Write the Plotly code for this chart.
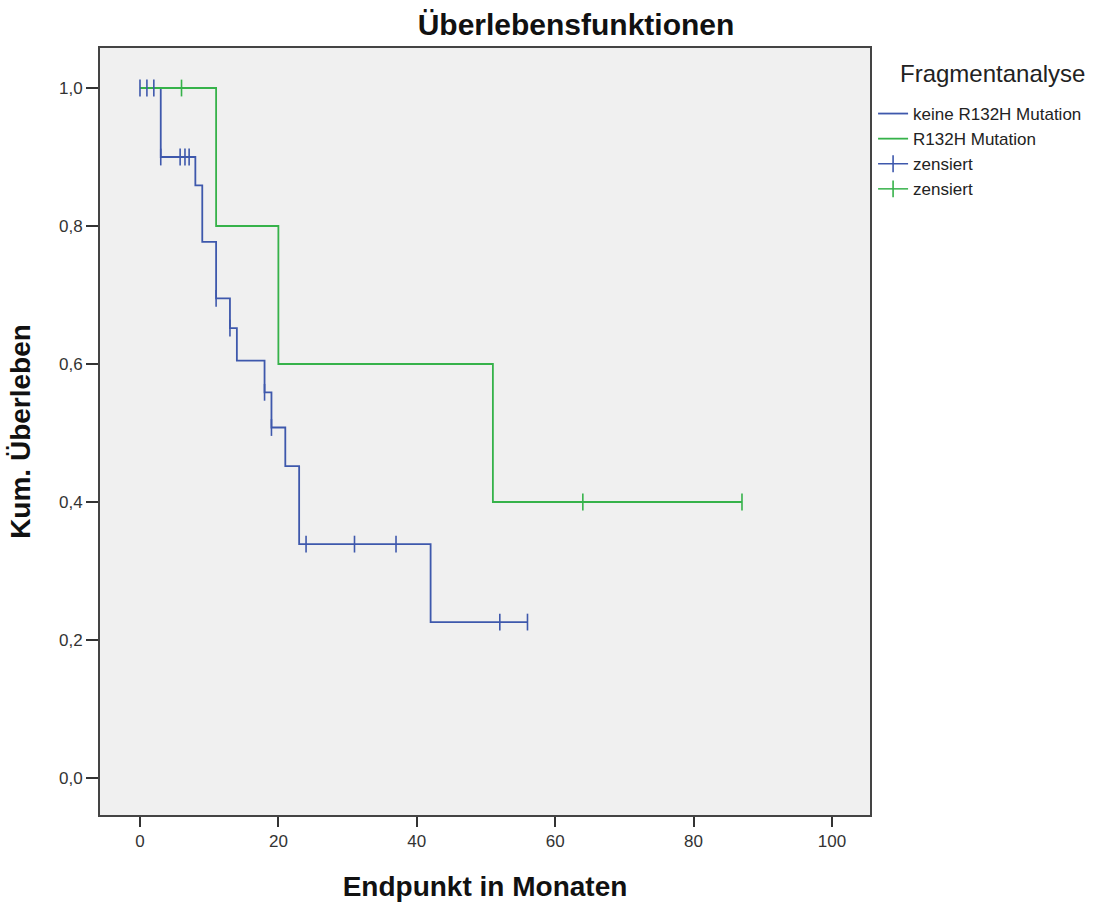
import plotly.graph_objects as go

# Survival curves (Kaplan-Meier steps)
blue_name = "keine R132H Mutation"
blue_times = [0, 3, 8, 9, 11, 13, 14, 18, 19, 21, 23, 42, 56]
blue_surv = [1.0, 0.9, 0.859, 0.777, 0.695, 0.652, 0.605, 0.559, 0.508, 0.452, 0.339, 0.226, 0.226]
blue_cens_times = [0, 1, 2, 3, 5.8, 6.5, 7.1, 11, 13, 18, 19, 24, 31, 37, 52, 56]
blue_cens_surv = [1.0, 1.0, 1.0, 0.9, 0.9, 0.9, 0.9, 0.695, 0.652, 0.559, 0.508, 0.339, 0.339, 0.339, 0.226, 0.226]

green_name = "R132H Mutation"
green_times = [0, 11, 20, 51, 87]
green_surv = [1.0, 0.8, 0.6, 0.4, 0.4]
green_cens_times = [6, 64, 87]
green_cens_surv = [1.0, 0.4, 0.4]

x_ticks = [0, 20, 40, 60, 80, 100]
y_ticks = [0.0, 0.2, 0.4, 0.6, 0.8, 1.0]

BLUE = "#3E58AC"
GREEN = "#36B24A"
FONT_REG = "Liberation Sans, Arial, sans-serif"


def gapped(xs, ys):
    gx, gy = [], []
    for a, b in zip(xs, ys):
        gx += [a, None]
        gy += [b, None]
    return gx, gy


fig = go.Figure()
fig.add_trace(go.Scatter(x=blue_times, y=blue_surv, mode="lines", line=dict(color=BLUE, width=1.8, shape="hv"),
                         name=blue_name))
fig.add_trace(go.Scatter(x=green_times, y=green_surv, mode="lines", line=dict(color=GREEN, width=1.8, shape="hv"),
                         name=green_name))
bx, by = gapped(blue_cens_times, blue_cens_surv)
fig.add_trace(go.Scatter(x=bx, y=by, mode="lines+markers", connectgaps=False,
                         line=dict(color=BLUE, width=1.5),
                         marker=dict(symbol="line-ns", size=12, color=BLUE, line=dict(color=BLUE, width=1.6)),
                         name="zensiert"))
gx, gy = gapped(green_cens_times, green_cens_surv)
fig.add_trace(go.Scatter(x=gx, y=gy, mode="lines+markers", connectgaps=False,
                         line=dict(color=GREEN, width=1.5),
                         marker=dict(symbol="line-ns", size=12, color=GREEN, line=dict(color=GREEN, width=1.6)),
                         name="zensiert"))

fig.update_layout(
    width=1117, height=903,
    margin=dict(l=100, r=247, t=48, b=88, autoexpand=False),
    paper_bgcolor="white", plot_bgcolor="#F0F0F0",
    separators=",.",
    font=dict(family=FONT_REG, color="#222222", size=16),
    showlegend=True,
    legend=dict(x=1.004, y=(815 - 96) / 767, xanchor="left", yanchor="top", bgcolor="rgba(0,0,0,0)",
                font=dict(family=FONT_REG, size=17, color="#222222"), tracegroupgap=0, itemwidth=30),
    title=dict(text="<b>Überlebensfunktionen</b>", x=576 / 1117, xanchor="center", y=1 - 24 / 903, yanchor="middle",
               font=dict(family=FONT_REG, size=30, color="#111111")),
)
fig.update_xaxes(range=[-5.78, 105.5], tickvals=x_ticks, ticks="outside", ticklen=10, tickwidth=2, tickcolor="#333",
                 showgrid=False, zeroline=False, showline=True, linecolor="#444", linewidth=2, mirror=True,
                 tickfont=dict(size=17, color="#333"), automargin=False,
                 title=dict(text="<b>Endpunkt in Monaten</b>", font=dict(size=28, color="#111"), standoff=26))
fig.update_yaxes(range=[-0.0536, 1.058], tickvals=y_ticks, tickformat=".1f", ticks="outside", ticklen=12, tickwidth=2,
                 tickcolor="#333", showgrid=False, zeroline=False, showline=True, linecolor="#444", linewidth=2,
                 mirror=True, tickfont=dict(size=17, color="#333"), automargin=False,
                 title=dict(text="<b>Kum. Überleben</b>", font=dict(size=28, color="#111"), standoff=20))
fig.add_annotation(text="Fragmentanalyse", xref="paper", yref="paper", x=(992 - 100) / 770, y=(815 - 73) / 767,
                   xanchor="center", yanchor="middle", showarrow=False,
                   font=dict(family=FONT_REG, size=24, color="#222"))

fig.write_html("out.html")
